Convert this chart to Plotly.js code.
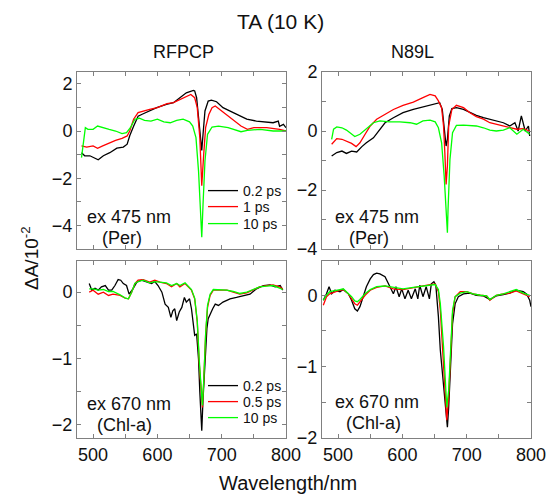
<!DOCTYPE html>
<html>
<head>
<meta charset="utf-8">
<script src="https://cdn.plot.ly/plotly-3.0.1.min.js"></script>
<style>html,body{margin:0;padding:0;background:#fff;}#chart{width:548px;height:495px;}</style>
</head>
<body>
<div id="chart"></div>
<script>
// ---- Top-left: RFPCP, ex 475 nm ----
const tlBlackX = [482,487,495,508,516,526,537,547,553,557,563,570,578,588,599,614,625,635,645,656,658,661,665,669,671,674,679,684,692,702,718,728,739,754,770,780,788,790,796,800];
const tlBlackY = [-0.92,-1.05,-1.05,-1.22,-1.05,-0.92,-0.73,-0.68,-0.56,-0.2,0.2,0.63,0.73,0.87,0.99,1.13,1.2,1.41,1.62,1.72,1.7,1.41,0.42,-0.82,-0.14,0.85,1.27,1.31,1.24,0.99,0.78,0.63,0.5,0.42,0.38,0.35,0.42,0.2,0.28,0.14];
const tlRedX = [482,490,500,507,515,525,535,545,553,557,563,570,578,588,600,615,625,635,645,652,658,662,666,669,672,675,680,685,690,700,710,720,730,740,750,770,790,800];
const tlRedY = [-0.63,-0.68,-0.63,-0.73,-0.63,-0.5,-0.4,-0.31,-0.21,0,0.5,0.78,0.85,0.92,0.99,1.16,1.2,1.34,1.48,1.55,1.41,0.99,-0.28,-2.32,-1.0,0.14,0.7,0.99,1.06,0.85,0.63,0.42,0.21,0.07,0.14,0.14,0.07,0];
const tlGreenX = [482,485,488,492,500,507,515,525,535,545,552,558,565,572,580,590,600,610,620,630,640,650,655,660,664,667,669,671,674,678,685,695,710,730,740,760,780,800];
const tlGreenY = [-1.13,-0.42,0.14,0.07,0.07,0.21,0.14,0.07,0,-0.11,-0.07,0.14,0.5,0.54,0.45,0.42,0.5,0.39,0.35,0.45,0.5,0.39,0.21,-0.28,-1.7,-3.4,-4.5,-3.1,-1.27,-0.14,0.17,0.21,0.14,-0.03,0.03,0.07,0,0];

// ---- Top-right: N89L, ex 475 nm ----
const trBlackX = [490,498,506,513,521,529,537,544,555,565,573,586,601,617,632,648,658,662,665,668,670,673,677,684,695,705,715,726,736,746,757,767,775,780,785,791,796,798];
const trBlackY = [-0.85,-0.73,-0.68,-0.76,-0.68,-0.71,-0.53,-0.4,-0.23,0.06,0.28,0.45,0.62,0.73,0.81,0.9,0.96,0.73,0.17,-0.51,-0.28,0.51,0.76,0.79,0.73,0.62,0.53,0.45,0.4,0.34,0.28,0.17,0.28,0,0.51,0,0.17,-0.17];
const trRedX = [490,498,506,513,521,528,534,542,550,560,573,586,601,617,632,643,651,656,661,664,666,668,670,672,677,684,695,705,715,726,736,746,757,767,778,788,798];
const trRedY = [-0.45,-0.26,-0.28,-0.34,-0.42,-0.53,-0.4,-0.11,0.17,0.4,0.56,0.73,0.87,0.98,1.13,1.24,1.19,1.02,0.79,0.17,-0.73,-1.81,-1.19,0.17,0.73,0.87,0.79,0.62,0.49,0.4,0.28,0.23,0.17,0.11,0.06,0.08,0];
const trGreenX = [490,493,498,506,513,521,526,534,544,555,565,580,596,612,622,632,643,651,656,661,665,668,670,671,674,678,684,695,705,715,726,736,746,757,767,778,788,798];
const trGreenY = [-0.28,0.06,0.14,0.11,0.03,-0.11,-0.19,-0.11,0.08,0.28,0.34,0.31,0.31,0.28,0.23,0.34,0.37,0.31,0.11,-0.4,-1.53,-2.88,-3.45,-2.66,-0.96,-0.06,0.19,0.2,0.19,0.17,0.11,0.03,0,0.03,0.11,-0.11,0.06,-0.11];

// ---- Bottom-left: RFPCP, ex 670 nm ----
const blBlackX = [494,498,503,508,513,519,524,529,534,539,543,547,552,556,562,568,575,583,591,596,601,607,612,617,621,624,627,630,634,638,642,645,650,653,656,658,661,664,666,669,671,674,677,679,683,686,690,695,702,713,723,734,744,754,765,775,783,791,795];
const blBlackY = [0.13,0.03,0.06,0.03,0.08,0.1,0.03,0.03,0.1,0.19,0.18,0.13,0.1,-0.03,0.05,0.15,0.18,0.15,0.13,0.16,0.1,0,-0.18,-0.23,-0.38,-0.28,-0.25,-0.43,-0.3,-0.23,-0.08,-0.15,-0.1,-0.25,-0.55,-0.65,-0.63,-1.01,-1.51,-2.09,-1.61,-1.01,-0.55,-0.4,-0.3,-0.25,-0.18,-0.2,-0.15,-0.1,-0.08,-0.05,-0.03,0.05,0.1,0.11,0.08,0.1,0.03];
const blX = [494,500,508,516,524,531,542,550,555,560,565,570,578,588,596,604,614,622,630,635,643,648,653,658,662,665,668,670,672,675,678,682,687,697,708,718,728,739,749,759,770,780,790,795];
const blRedY = [0,0.03,-0.03,0,-0.05,-0.03,-0.05,-0.09,-0.1,0,0.13,0.18,0.19,0.15,0.18,0.15,0.13,0.08,0.13,0.08,0.13,0.08,0.03,-0.1,-0.45,-1.06,-1.56,-1.74,-1.36,-0.65,-0.23,-0.05,0.03,0.03,0.03,0,-0.03,-0.01,0.03,0.08,0.1,0.11,0.08,0.05];
const blGreenY = [0.05,0.05,0.03,0.04,0.01,0.01,-0.04,-0.09,-0.1,0,0.13,0.16,0.18,0.14,0.16,0.15,0.14,0.1,0.13,0.1,0.14,0.09,0.04,-0.09,-0.43,-1.01,-1.51,-1.71,-1.36,-0.63,-0.2,-0.03,0.04,0.04,0.03,0.01,-0.02,0,0.04,0.08,0.09,0.1,0.06,0.04];

// ---- Bottom-right: N89L, ex 670 nm ----
const brBlackX = [477,482,486,490,495,503,508,516,521,526,530,534,539,544,550,555,560,565,573,578,583,586,590,595,599,604,609,614,620,624,627,632,637,642,645,649,652,656,659,664,667,670,672,675,678,682,687,695,705,715,726,736,746,757,767,777,788,793,798,800];
const brBlackY = [-0.07,0.02,0.12,0.02,0.07,0.05,0.08,0.02,-0.07,-0.19,-0.22,-0.16,-0.02,0.12,0.23,0.29,0.31,0.3,0.26,0.16,0.07,0.02,0.12,-0.02,0.09,-0.05,0.07,-0.05,0.09,-0.05,0.14,-0.02,0.12,-0.05,0.16,0.19,0.14,-0.3,-0.77,-1.24,-1.61,-1.85,-1.57,-1.0,-0.4,-0.12,-0.02,0.02,0.03,0,-0.01,-0.06,-0.01,0.01,0.03,0.07,0.05,0.02,-0.07,-0.16];
const brX = [477,482,487,495,503,508,516,521,526,530,534,542,550,560,573,586,601,617,632,643,651,656,659,664,667,669,672,675,678,682,690,700,710,721,731,736,746,757,767,777,788,798];
const brRedY = [-0.14,-0.02,0.02,0.05,0.07,0.08,0.02,-0.05,-0.12,-0.14,-0.09,0,0.07,0.11,0.13,0.09,0.08,0.11,0.13,0.15,0.16,0.05,-0.21,-0.91,-1.47,-1.75,-1.43,-0.77,-0.26,-0.02,0.05,0.05,0.02,0,-0.01,-0.07,0,0.02,0.03,0.06,0.02,-0.02];
const brGreenY = [-0.07,0,0.05,0.06,0.08,0.09,0.03,-0.02,-0.08,-0.09,-0.06,0.02,0.08,0.12,0.13,0.11,0.09,0.11,0.13,0.14,0.15,0.08,-0.12,-0.72,-1.33,-1.57,-1.33,-0.72,-0.21,-0.02,0.03,0.05,0.02,0,-0.01,-0.06,0,0.02,0.05,0.08,0.03,0];

const topLabels = ['0.2 ps','1 ps','10 ps'];
const botLabels = ['0.2 ps','0.5 ps','10 ps'];
const COLORS = ['#000000','#ff0000','#00ff00'];
const FONT = 'Liberation Sans, Arial, sans-serif';

function tr(x, y, xa, ya, color, name, legend, show) {
  return {x: x, y: y, xaxis: xa, yaxis: ya, type: 'scatter', mode: 'lines',
    line: {color: color, width: 1.3}, name: name, legend: legend, showlegend: show};
}
const data = [
  tr(tlBlackX, tlBlackY, 'x', 'y', COLORS[0], topLabels[0], 'legend', true),
  tr(tlRedX, tlRedY, 'x', 'y', COLORS[1], topLabels[1], 'legend2', true),
  tr(tlGreenX, tlGreenY, 'x', 'y', COLORS[2], topLabels[2], 'legend3', true),
  tr(trBlackX, trBlackY, 'x2', 'y2', COLORS[0], topLabels[0], 'legend', false),
  tr(trRedX, trRedY, 'x2', 'y2', COLORS[1], topLabels[1], 'legend2', false),
  tr(trGreenX, trGreenY, 'x2', 'y2', COLORS[2], topLabels[2], 'legend3', false),
  tr(blBlackX, blBlackY, 'x3', 'y3', COLORS[0], botLabels[0], 'legend4', true),
  tr(blX, blRedY, 'x3', 'y3', COLORS[1], botLabels[1], 'legend5', true),
  tr(blX, blGreenY, 'x3', 'y3', COLORS[2], botLabels[2], 'legend6', true),
  tr(brBlackX, brBlackY, 'x4', 'y4', COLORS[0], botLabels[0], 'legend4', false),
  tr(brX, brRedY, 'x4', 'y4', COLORS[1], botLabels[1], 'legend5', false),
  tr(brX, brGreenY, 'x4', 'y4', COLORS[2], botLabels[2], 'legend6', false)
];

const W = 548, H = 495;
const px = v => v / W;
const py = v => 1 - v / H;
const axisLine = '#808080';
function xaxis(dom, anchor, labels) {
  return {domain: dom, anchor: anchor, range: [475, 800], dtick: 100, tick0: 500,
    ticks: 'inside', ticklen: 4, tickcolor: axisLine, showline: true, linecolor: axisLine,
    linewidth: 1, mirror: 'ticks', showgrid: false, zeroline: false,
    showticklabels: labels, tickfont: {family: FONT, size: 18, color: '#111'},
    minor: {dtick: 50, ticks: 'inside', ticklen: 4, tickcolor: axisLine, showgrid: false}};
}
function yaxis(dom, anchor, range, dtick) {
  return {domain: dom, anchor: anchor, range: range, dtick: dtick, tick0: 0,
    ticks: 'inside', ticklen: 4, tickcolor: axisLine, showline: true, linecolor: axisLine,
    linewidth: 1, mirror: 'ticks', showgrid: false, zeroline: false,
    tickfont: {family: FONT, size: 18, color: '#111'}, ticklabelstandoff: 0,
    minor: {dtick: dtick / 2, ticks: 'inside', ticklen: 4, tickcolor: axisLine, showgrid: false}};
}
const xL = [px(77), px(286)], xR = [px(322), px(531)];
const yT = [py(249), py(72)], yB = [py(438), py(261)];

function leg(yc) {
  return {x: px(203), y: py(yc), xanchor: 'left', yanchor: 'middle', bgcolor: 'rgba(0,0,0,0)',
    font: {family: FONT, size: 14, color: '#111'}, borderwidth: 0};
}

const ann = (text, x, y, size, extra) => Object.assign({text: text, xref: 'paper', yref: 'paper',
  x: px(x), y: py(y), showarrow: false, font: {family: FONT, size: size, color: '#111'},
  xanchor: 'center', yanchor: 'middle'}, extra || {});

const layout = {
  width: W, height: H, margin: {l: 0, r: 0, t: 0, b: 0},
  paper_bgcolor: '#fff', plot_bgcolor: '#fff',
  font: {family: FONT, color: '#111'},
  xaxis: xaxis(xL, 'y', false),
  yaxis: yaxis(yT, 'x', [-5, 2.5], 2),
  xaxis2: xaxis(xR, 'y2', false),
  yaxis2: yaxis(yT, 'x2', [-4, 2], 2),
  xaxis3: xaxis(xL, 'y3', true),
  yaxis3: yaxis(yB, 'x3', [-2.2, 0.47], 1),
  xaxis4: xaxis(xR, 'y4', true),
  yaxis4: yaxis(yB, 'x4', [-2, 0.48], 1),
  legend: leg(191), legend2: leg(207), legend3: leg(224),
  legend4: leg(386), legend5: leg(402), legend6: leg(418),
  annotations: [
    ann('TA (10 K)', 280, 22, 21),
    ann('RFPCP', 183, 52, 18),
    ann('N89L', 412, 52, 18),
    ann('ΔA/10<sup>-2</sup>', 30, 258, 19, {textangle: -90}),
    ann('Wavelength/nm', 288, 483, 20),
    ann('ex 475 nm', 85, 217, 18, {xanchor: 'left'}),
    ann('(Per)', 122, 238, 18),
    ann('ex 475 nm', 333, 217, 18, {xanchor: 'left'}),
    ann('(Per)', 369, 238, 18),
    ann('ex 670 nm', 85, 404, 18, {xanchor: 'left'}),
    ann('(Chl-a)', 124, 425, 18),
    ann('ex 670 nm', 333, 402, 18, {xanchor: 'left'}),
    ann('(Chl-a)', 373, 423, 18)
  ]
};
Plotly.newPlot('chart', data, layout, {staticPlot: true, displayModeBar: false});
</script>
</body>
</html>
